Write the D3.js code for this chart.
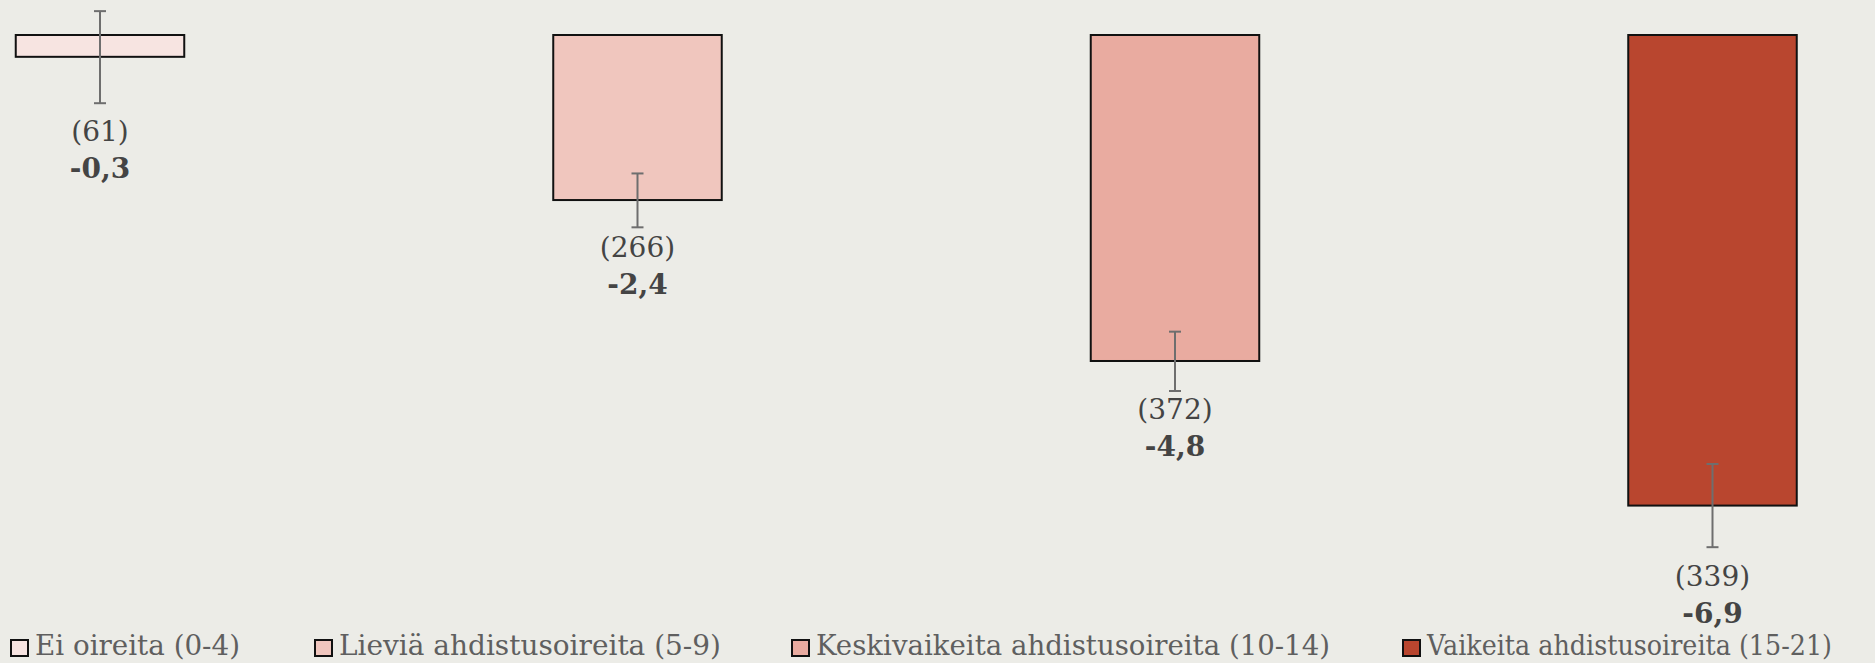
<!DOCTYPE html>
<html>
<head>
<meta charset="utf-8">
<script src="https://cdn.jsdelivr.net/npm/d3@7"></script>
<style>
body { margin: 0; background: #ecece7; overflow: hidden; }
svg { display: block; }
</style>
</head>
<body>
<svg id="chart" width="1875" height="663"></svg>
<script>
// data
const categories = ["Ei oireita (0-4)", "Lieviä ahdistusoireita (5-9)", "Keskivaikeita ahdistusoireita (10-14)", "Vaikeita ahdistusoireita (15-21)"];
const values = [-0.32, -2.42, -4.78, -6.90];
const ciLow = [-1.00, -2.82, -5.22, -7.51];
const ciHigh = [0.35, -2.03, -4.35, -6.29];
const counts = [61, 266, 372, 339];
const colors = ["#f7e4e1", "#f0c6be", "#e9aba0", "#b9462f"];

// layout, set by hand like in the original
const labelGap = [38, 30, 28, 39];
const legendX = [11, 315, 792, 1403];
const legendW = [205, 382, 514, 405];

const svg = d3.select("#chart");

const x = d3.scaleBand()
  .domain(categories)
  .range([-168.75, 1981.25])
  .paddingInner(0.6865)
  .paddingOuter(0.34325);

const y = d3.scaleLinear()
  .domain([0, -7.5])
  .range([35, 35 + 7.5 * 68.2]);

const fmt = v => d3.format(".1f")(v).replace(".", ",").replace("−", "-");
const cx = d => x(d) + x.bandwidth() / 2;

const g = svg.append("g");

// bars
g.selectAll("rect.bar")
  .data(categories)
  .join("rect")
  .attr("class", "bar")
  .attr("x", d => x(d))
  .attr("width", x.bandwidth())
  .attr("y", y(0))
  .attr("height", (d, i) => y(values[i]) - y(0))
  .attr("fill", (d, i) => colors[i])
  .attr("stroke", "#111")
  .attr("stroke-width", 2);

// error bars
const eb = g.selectAll("g.err")
  .data(categories)
  .join("g")
  .attr("class", "err")
  .attr("stroke", "#6e6e6e")
  .attr("stroke-width", 2);

eb.append("line")
  .attr("x1", cx).attr("x2", cx)
  .attr("y1", (d, i) => y(ciHigh[i]))
  .attr("y2", (d, i) => y(ciLow[i]));
eb.append("line")
  .attr("x1", d => cx(d) - 6).attr("x2", d => cx(d) + 6)
  .attr("y1", (d, i) => y(ciHigh[i]))
  .attr("y2", (d, i) => y(ciHigh[i]));
eb.append("line")
  .attr("x1", d => cx(d) - 6).attr("x2", d => cx(d) + 6)
  .attr("y1", (d, i) => y(ciLow[i]))
  .attr("y2", (d, i) => y(ciLow[i]));

// labels: (n) and the value
const lab = g.selectAll("text.lab")
  .data(categories)
  .join("text")
  .attr("class", "lab")
  .attr("x", cx)
  .attr("y", (d, i) => y(ciLow[i]) + labelGap[i])
  .attr("text-anchor", "middle")
  .attr("font-family", "'DejaVu Serif', serif")
  .attr("font-size", 28)
  .attr("fill", "#444");
lab.append("tspan").text((d, i) => "(" + counts[i] + ")");
lab.append("tspan")
  .attr("x", cx)
  .attr("dy", 37)
  .attr("font-weight", "bold")
  .text((d, i) => fmt(values[i]));

// legend
const leg = svg.append("g").attr("transform", "translate(0,655)")
  .selectAll("g")
  .data(categories)
  .join("g")
  .attr("transform", (d, i) => `translate(${legendX[i]},0)`);
leg.append("rect")
  .attr("x", 0).attr("y", -15)
  .attr("width", 17).attr("height", 16)
  .attr("fill", (d, i) => colors[i])
  .attr("stroke", "#111")
  .attr("stroke-width", 2);
leg.append("text")
  .attr("x", 24)
  .attr("y", 0)
  .attr("font-family", "'DejaVu Serif', serif")
  .attr("font-size", 28)
  .attr("fill", "#5f5f5f")
  .attr("textLength", (d, i) => legendW[i])
  .attr("lengthAdjust", "spacingAndGlyphs")
  .text(d => d);
</script>
</body>
</html>
